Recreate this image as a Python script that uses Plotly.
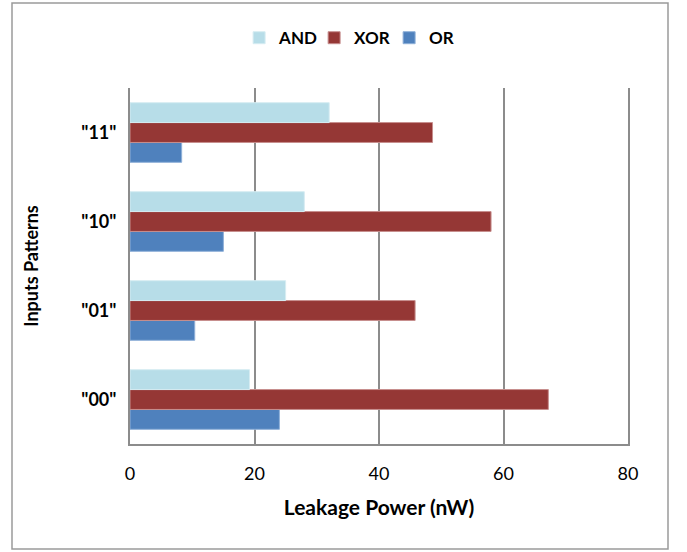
import plotly.graph_objects as go

categories = ['"00"', '"01"', '"10"', '"11"']
and_vals = [19.2, 25.0, 28.0, 32.0]
xor_vals = [67.2, 45.8, 58.0, 48.6]
or_vals = [24.0, 10.4, 15.0, 8.3]
x_ticks = [0, 20, 40, 60, 80]

FONT = "Lato"

fig = go.Figure()
fig.add_trace(go.Bar(y=categories, x=or_vals, name="OR", orientation="h",
                     marker=dict(color="#4F81BD", line=dict(color="#8FB0D8", width=1))))
fig.add_trace(go.Bar(y=categories, x=xor_vals, name="XOR", orientation="h",
                     marker=dict(color="#953735", line=dict(color="#C78F8E", width=1))))
fig.add_trace(go.Bar(y=categories, x=and_vals, name="AND", orientation="h",
                     marker=dict(color="#B7DDE8", line=dict(color="#D6ECF2", width=1))))

fig.update_layout(
    width=687, height=552,
    margin=dict(l=130, r=59, t=88, b=108),
    paper_bgcolor="white", plot_bgcolor="white",
    barmode="group", bargap=0.33, bargroupgap=0,
    font=dict(family=FONT, color="black"),
    legend=dict(orientation="h", traceorder="reversed", x=0.445, xanchor="center",
                y=1.14, yanchor="middle", font=dict(size=17, family=FONT, weight="bold"),
                itemwidth=30, tracegroupgap=0, entrywidth=30, entrywidthmode="pixels"),
    shapes=[dict(type="rect", xref="paper", yref="paper",
                 x0=(12 - 130) / 498, x1=(668 - 130) / 498,
                 y0=(444 - 549) / 356, y1=(444 - 3) / 356,
                 line=dict(color="#9a9a9a", width=1.5), layer="below")],
)

fig.update_xaxes(range=[0, 80], tickvals=x_ticks, showgrid=True, gridcolor="#8c8c8c",
                 gridwidth=1.5, showline=True, linecolor="#8c8c8c", linewidth=2,
                 zeroline=False, ticks="", ticklabelstandoff=12,
                 tickfont=dict(size=18, family=FONT),
                 title=dict(text="<b>Leakage Power (nW)</b>", font=dict(size=21, family=FONT), standoff=18))
fig.update_yaxes(showgrid=False, showline=True, linecolor="#8c8c8c", linewidth=2,
                 mirror=True, ticks="", ticklabelstandoff=8,
                 tickfont=dict(size=18, family=FONT, weight="bold"),
                 title=dict(text="<b>Inputs Patterns</b>", font=dict(size=18, family=FONT), standoff=38))

fig.write_html("out.html", config={"displayModeBar": False},
               post_script="document.body.style.margin='0';")
